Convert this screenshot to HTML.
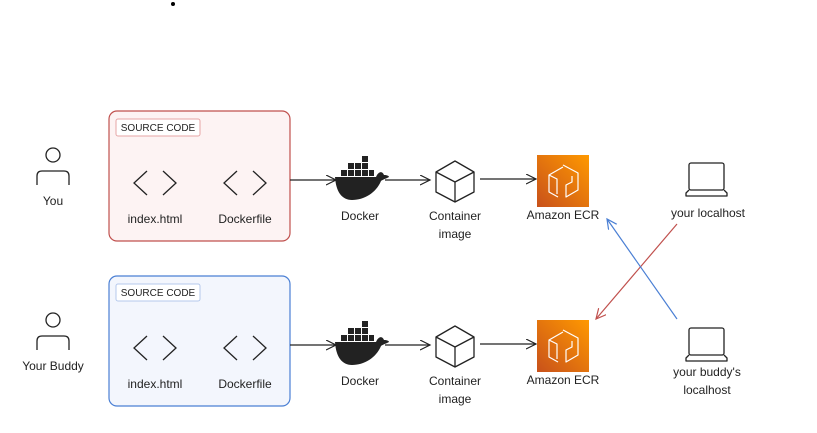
<!DOCTYPE html>
<html><head><meta charset="utf-8"><style>
html,body{margin:0;padding:0;background:#fff;}
svg{display:block;font-family:"Liberation Sans",Arial,sans-serif;}
text{font-size:12px;fill:#222;text-anchor:middle;}
</style></head><body>
<svg width="817" height="433" viewBox="0 0 817 433">
<defs>
<marker id="a" markerWidth="12" markerHeight="12" refX="10" refY="5" orient="auto" markerUnits="userSpaceOnUse"><path d="M0,0 L10,5 L0,10" fill="none" stroke="#222" stroke-width="1.2"/></marker>
<marker id="ar" markerWidth="12" markerHeight="12" refX="10" refY="5" orient="auto" markerUnits="userSpaceOnUse"><path d="M0,0 L10,5 L0,10" fill="none" stroke="#c0504d" stroke-width="1.2"/></marker>
<marker id="ab" markerWidth="12" markerHeight="12" refX="10" refY="5" orient="auto" markerUnits="userSpaceOnUse"><path d="M0,0 L10,5 L0,10" fill="none" stroke="#4a7fd4" stroke-width="1.2"/></marker>
<linearGradient id="g" x1="0" y1="1" x2="1" y2="0"><stop offset="0" stop-color="#c8511b"/><stop offset="1" stop-color="#f90"/></linearGradient>
<g id="row">
  <g fill="none" stroke="#222" stroke-width="1.3">
    <path d="M147,171 L134,183 L147,195 M163,171 L176,183 L163,195"/>
    <path d="M237,171 L224,183 L237,195 M253,171 L266,183 L253,195"/>
  </g>
  <text x="155" y="223">index.html</text>
  <text x="245" y="223">Dockerfile</text>
  <line x1="290" y1="180" x2="336" y2="180" stroke="#222" stroke-width="1.2" marker-end="url(#a)"/>
  <g fill="#222">
    <rect x="341" y="170" width="6" height="6"/><rect x="348" y="170" width="6" height="6"/><rect x="355" y="170" width="6" height="6"/><rect x="362" y="170" width="6" height="6"/><rect x="369" y="170" width="5" height="6"/>
    <rect x="348" y="163" width="6" height="6"/><rect x="355" y="163" width="6" height="6"/><rect x="362" y="163" width="6" height="6"/>
    <rect x="362" y="156" width="6" height="6"/>
    <path d="M335,177 L376,177 C378,172 382,170 384,175 C387,175 389,176 389,177 C385,179 382,180 381,181 C376,193 364,200 352,200 C342,200 336,192 335,177 Z"/>
  </g>
  <text x="360" y="220">Docker</text>
  <line x1="385" y1="180" x2="430" y2="180" stroke="#222" stroke-width="1.2" marker-end="url(#a)"/>
  <g fill="none" stroke="#222" stroke-width="1.3" stroke-linejoin="round">
    <path d="M455,161 L474,172 L474,192 L455,202 L436,192 L436,172 Z M436,172 L455,182 L474,172 M455,182 L455,202"/>
  </g>
  <text x="455" y="220">Container</text>
  <text x="455" y="238">image</text>
  <line x1="480" y1="179" x2="536" y2="179" stroke="#222" stroke-width="1.2" marker-end="url(#a)"/>
  <rect x="537" y="155" width="52" height="52" fill="url(#g)"/>
  <g fill="none" stroke="#fff" stroke-width="1.2" stroke-linejoin="round">
    <path d="M563,165 L578,173 L578,190 L566,197 L566,185 L572,182 L572,176 M558,197 L549,192 L549,175 L563,167"/>
    <path d="M549,175 L557,179 L557,194"/>
  </g>
  <text x="563" y="219">Amazon ECR</text>
  <g fill="none" stroke="#222" stroke-width="1.3" stroke-linejoin="round">
    <rect x="689" y="163" width="35" height="27" rx="2"/>
    <path d="M689,190 L686,193 L686,196 L727,196 L727,193 L724,190"/>
  </g>
</g>
</defs>
<circle cx="173" cy="4" r="2" fill="#000"/>
<rect x="109" y="111" width="181" height="130" rx="8" fill="#fdf3f3" stroke="#c0504d" stroke-width="1.2"/>
<rect x="116" y="119" width="84" height="17" rx="2" fill="#fff" stroke="#e6a6a6"/>
<text x="158" y="131" style="font-size:10px">SOURCE CODE</text>
<rect x="109" y="276" width="181" height="130" rx="8" fill="#f3f6fd" stroke="#4a7fd4" stroke-width="1.2"/>
<rect x="116" y="284" width="84" height="17" rx="2" fill="#fff" stroke="#b4c8ec"/>
<text x="158" y="296" style="font-size:10px">SOURCE CODE</text>
<use href="#row"/>
<use href="#row" y="165"/>
<g fill="none" stroke="#222" stroke-width="1.3">
  <circle cx="53" cy="155" r="7"/>
  <path d="M37,185 L37,176 Q37,171 42,171 L64,171 Q69,171 69,176 L69,185"/>
  <circle cx="53" cy="320" r="7"/>
  <path d="M37,350 L37,341 Q37,336 42,336 L64,336 Q69,336 69,341 L69,350"/>
</g>
<text x="53" y="205">You</text>
<text x="53" y="370">Your Buddy</text>
<text x="708" y="217">your localhost</text>
<text x="707" y="376">your buddy's</text>
<text x="707" y="394">localhost</text>
<line x1="677" y1="224" x2="596" y2="319" stroke="#c0504d" stroke-width="1.2" marker-end="url(#ar)"/>
<line x1="677" y1="319" x2="607" y2="219" stroke="#4a7fd4" stroke-width="1.2" marker-end="url(#ab)"/>
</svg>
</body></html>
